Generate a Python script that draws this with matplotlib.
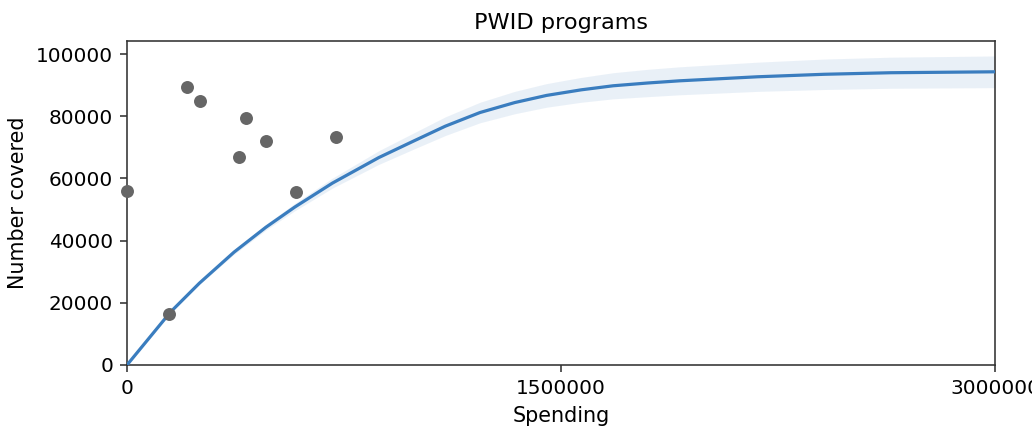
import matplotlib
matplotlib.use("Agg")
import matplotlib.pyplot as plt
import numpy as np

# Observed program data
spend_obs = [0, 146000, 208000, 253000, 387000, 410000, 480000, 583000, 722000]
covered_obs = [56000, 16400, 89300, 84900, 66800, 79500, 72100, 55600, 73200]

# Fitted curve
curve_x = [0, 75000, 150000, 250000, 370000, 480000, 580000, 710000, 870000,
           990000, 1100000, 1220000, 1340000, 1450000, 1570000, 1680000,
           1800000, 1910000, 2180000, 2410000, 2640000, 3000000]
curve_y = [0, 8500, 17000, 26300, 36300, 44300, 50800, 58500, 66700,
           72000, 76800, 81200, 84400, 86700, 88500, 89800,
           90700, 91400, 92700, 93500, 94000, 94300]
band_half = [0, 100, 200, 400, 700, 900, 1200, 1600, 2200,
             2600, 3000, 3300, 3600, 3800, 4000, 4200,
             4400, 4500, 4700, 4900, 5000, 5100]

x_ticks = [0, 1500000, 3000000]
y_ticks = [0, 20000, 40000, 60000, 80000, 100000]

DPI = 144
fig = plt.figure(figsize=(1032 / DPI, 433 / DPI), dpi=DPI)
ax = fig.add_axes([127 / 1032, 1 - 365 / 433, (995 - 127) / 1032, (365 - 40.7) / 433])

cy = np.array(curve_y)
bh = np.array(band_half)
ax.fill_between(curve_x, cy - bh, cy + bh, color='#3b7dbf', alpha=0.11, linewidth=0)
ax.plot(curve_x, curve_y, color='#3a7dbf', lw=1.6, zorder=3)
ax.scatter(spend_obs, covered_obs, s=42, color='#666666', zorder=4, linewidths=0,
           clip_on=False)

ax.set_xlim(0, 3000000)
ax.set_ylim(0, 104300)
ax.set_xticks(x_ticks)
ax.set_xticklabels([str(v) for v in x_ticks])
ax.set_yticks(y_ticks)
ax.set_yticklabels([str(v) for v in y_ticks])
ax.tick_params(labelsize=10, color='#333333')
for s in ax.spines.values():
    s.set_color('#333333')
    s.set_linewidth(0.8)

ax.set_xlabel('Spending', fontsize=10.3)
ax.set_ylabel('Number covered', fontsize=10.3)
ax.set_title('PWID programs', fontsize=11.2)

fig.savefig('out.png', dpi=DPI)
